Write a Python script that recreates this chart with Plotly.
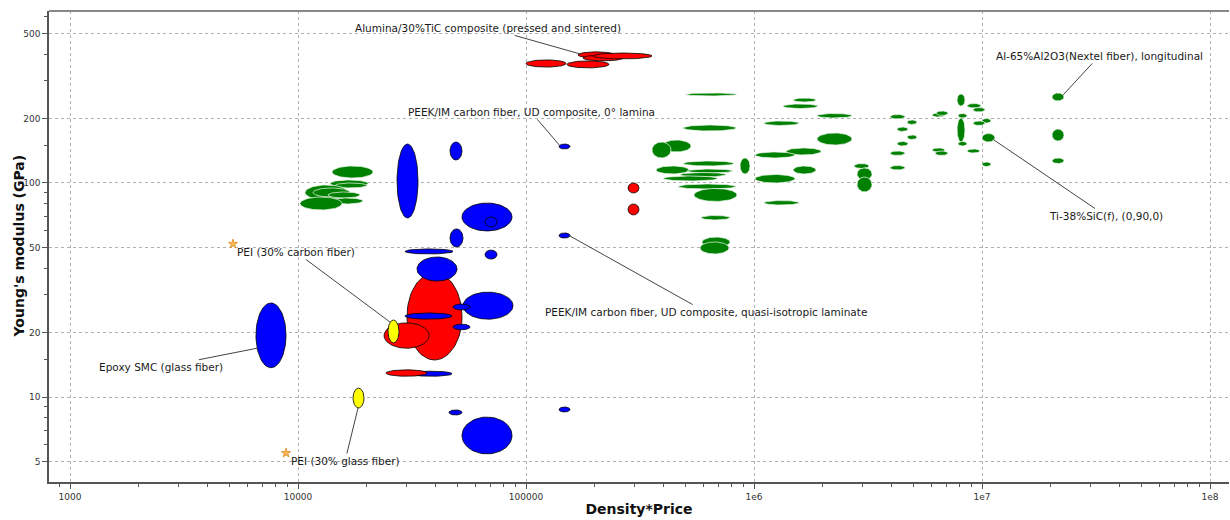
import numpy as np
import plotly.graph_objects as go

# ---------------- data: property ranges (Density*Price , Young's modulus GPa) ----------------
# green family
green_xlo = [14100, 13820, 14530, 10730, 11630, 13540, 13820, 10200,
             498200, 488300, 394900, 356900, 488300, 371700, 508300, 473700, 398900, 464200,
             545600, 868000, 585600, 591500, 579800,
             1.483e6, 1.341e6, 1.890e6, 1.106e6, 1.890e6, 1.382e6, 1.010e6, 1.483e6, 1.010e6,
             1.106e6, 2.746e6, 2.830e6, 2.830e6,
             3.949e6, 4.690e6, 4.239e6, 4.690e6, 4.239e6, 3.949e6, 3.949e6, 6.036e6, 6.285e6,
             6.036e6, 6.222e6, 7.771e6, 7.849e6, 7.771e6, 7.849e6, 8.595e6, 9.130e6, 1.0e7,
             9.130e6, 1.0e7, 8.595e6, 1.0e7, 2.028e7, 2.028e7, 2.028e7]
green_xhi = [21330, 20280, 20070, 16570, 16910, 18710, 19280, 15600,
             842400, 834000, 529300, 432500, 817100, 518700, 808900, 753900, 695200, 834000,
             842400, 960500, 784800, 784800, 777000,
             1.871e6, 1.909e6, 2.691e6, 1.576e6, 2.691e6, 1.968e6, 1.513e6, 1.871e6, 1.513e6,
             1.576e6, 3.195e6, 3.293e6, 3.293e6,
             4.596e6, 5.187e6, 4.737e6, 5.187e6, 4.737e6, 4.596e6, 4.596e6, 6.882e6, 7.094e6,
             6.882e6, 7.094e6, 8.423e6, 8.595e6, 8.423e6, 8.595e6, 9.899e6, 1.031e7, 1.095e7,
             1.031e7, 1.140e7, 9.800e6, 1.095e7, 2.289e7, 2.289e7, 2.289e7]
green_ylo = [105.5, 95.8, 94.8, 83.3, 86.0, 85.1, 79.8, 74.8,
             255.1, 175.0, 139.6, 130.9, 120.1, 110.2, 111.4, 106.7, 102.2, 93.7,
             82.0, 110.2, 67.2, 50.2, 46.6,
             239.0, 222.9, 201.3, 185.6, 150.5, 135.2, 130.9, 110.2, 100.0,
             78.9, 116.9, 103.3, 90.8,
             199.2, 187.7, 174.1, 159.7, 148.9, 134.5, 115.0, 203.4, 206.8,
             139.6, 134.5, 229.0, 201.3, 155.4, 148.9, 224.1, 214.7, 190.7,
             185.6, 155.4, 138.1, 119.4, 241.7, 157.1, 123.3]
green_yhi = [120.1, 103.3, 100.0, 97.9, 94.8, 90.8, 85.1, 86.0,
             263.4, 186.6, 158.8, 155.4, 126.7, 120.1, 116.2, 112.0, 107.8, 98.9,
             94.3, 130.9, 70.5, 55.9, 53.0,
             249.6, 234.0, 211.3, 194.9, 171.3, 145.8, 139.6, 120.1, 109.6,
             82.8, 123.3, 117.5, 106.7,
             209.0, 197.0, 182.6, 167.7, 156.3, 141.1, 120.7, 212.4, 217.0,
             145.8, 141.1, 260.6, 211.3, 201.3, 156.3, 235.2, 225.3, 200.2,
             194.9, 170.4, 144.2, 125.3, 263.4, 178.8, 130.9]

# blue ellipse lying under the large red one
blue_back_xlo = [30990]
blue_back_xhi = [47370]
blue_back_ylo = [12.5]
blue_back_yhi = [13.2]

# red ellipse drawn behind the blue ones
red_back_xlo = [30070]
red_back_xhi = [52400]
red_back_ylo = [14.9]
red_back_yhi = [38.0]

# blue family
blue_xlo = [6540, 27180, 46420, 52400, 66100, 46420, 29470, 66100, 33260, 29470,
            52930, 47850, 47850, 45950, 52400, 139500, 139500, 139500]
blue_xhi = [8860, 33600, 52400, 86820, 74630, 52930, 47850, 74630, 49820, 47370,
            87700, 56810, 56810, 52400, 86820, 156000, 156000, 156000]
blue_ylo = [13.7, 68.6, 128.1, 59.7, 62.3, 50.2, 46.6, 44.1, 34.8, 23.1,
            23.1, 25.5, 20.6, 8.24, 5.42, 8.51, 144.2, 55.3]
blue_yhi = [27.5, 152.1, 155.4, 80.6, 69.4, 61.0, 49.2, 48.6, 45.1, 24.7,
            30.9, 27.2, 21.9, 8.70, 8.06, 8.98, 152.1, 58.4]

# red family
red_xlo = [23840, 24320, 100000, 151300, 169100, 177800, 196800, 280200, 280200]
red_xhi = [37560, 36800, 149800, 231200, 245700, 266400, 356900, 313000, 313000]
red_ylo = [16.9, 12.5, 348, 345, 384, 372, 380, 89.8, 70.9]
red_yhi = [22.2, 13.4, 376, 372, 410, 396, 405, 100.0, 79.8]

# yellow family
yellow_xlo = [24810, 17430]
yellow_xhi = [27730, 19480]
yellow_ylo = [17.9, 8.89]
yellow_yhi = [22.9, 11.0]

# star markers
star_x = [5187, 8860]
star_y = [51.9, 5.47]

# labelled records: point touched by leader line, and label offset (px)
label_text = ["Alumina/30%TiC composite (pressed and sintered)",
              "PEEK/IM carbon fiber, UD composite, 0° lamina",
              "Al-65%Al2O3(Nextel fiber), longitudinal",
              "Ti-38%SiC(f), (0,90,0)",
              "PEI (30% carbon fiber)",
              "PEEK/IM carbon fiber, UD composite, quasi-isotropic laminate",
              "Epoxy SMC (glass fiber)",
              "PEI (30% glass fiber)"]
label_x = [172600, 141000, 2.27e7, 1.129e7, 25320, 156000, 6610, 18340]
label_y = [401, 149, 258, 158.8, 22.4, 56.5, 16.9, 8.89]
label_ax = [-92, -29, 36, 112, -94, 136, -96, -13]
label_ay = [-26, -34, -39, 76, -70, 76, 19, 53]

# axis ticks
x_tickvals = [1e3, 1e4, 1e5, 1e6, 1e7, 1e8]
x_ticktext = ["1000", "10000", "100000", "1e6", "1e7", "1e8"]
y_tickvals = [5, 10, 20, 50, 100, 200, 500]
y_ticktext = ["5", "10", "20", "50", "100", "200", "500"]

# ---------------- figure ----------------
def ellipse(xlo, xhi, ylo, yhi, n=80):
    lx0, lx1 = np.log10(xlo), np.log10(xhi)
    ly0, ly1 = np.log10(ylo), np.log10(yhi)
    cx, cy = (lx0 + lx1) / 2, (ly0 + ly1) / 2
    rx, ry = (lx1 - lx0) / 2, (ly1 - ly0) / 2
    t = np.linspace(0, 2 * np.pi, n)
    return 10 ** (cx + rx * np.cos(t)), 10 ** (cy + ry * np.sin(t))


fig = go.Figure()


def add_group(xlo, xhi, ylo, yhi, fill, edge, ew):
    for a, b, c, d in zip(xlo, xhi, ylo, yhi):
        ex, ey = ellipse(a, b, c, d)
        fig.add_trace(go.Scatter(x=ex, y=ey, mode="lines", fill="toself",
                                 fillcolor=fill, line=dict(color=edge, width=ew),
                                 hoverinfo="skip", showlegend=False))


add_group(green_xlo, green_xhi, green_ylo, green_yhi, "#008000", "rgba(235,245,235,0.9)", 0.8)
add_group(blue_back_xlo, blue_back_xhi, blue_back_ylo, blue_back_yhi, "#0000ff", "#000000", 0.8)
add_group(red_back_xlo, red_back_xhi, red_back_ylo, red_back_yhi, "#ff0000", "#000000", 0.8)
add_group(blue_xlo, blue_xhi, blue_ylo, blue_yhi, "#0000ff", "#000000", 0.8)
add_group(red_xlo, red_xhi, red_ylo, red_yhi, "#ff0000", "#000000", 0.8)
add_group(yellow_xlo, yellow_xhi, yellow_ylo, yellow_yhi, "#ffff00", "#000000", 0.8)

fig.add_trace(go.Scatter(x=star_x, y=star_y, mode="markers",
                         marker=dict(symbol="star", size=7, color="#f7b955",
                                     line=dict(color="#e08a20", width=0.8)),
                         hoverinfo="skip", showlegend=False))

for t, x, y, ax, ay in zip(label_text, label_x, label_y, label_ax, label_ay):
    fig.add_annotation(x=np.log10(x), y=np.log10(y), xref="x", yref="y",
                       text=t, showarrow=True, arrowhead=0, arrowwidth=1,
                       arrowcolor="#444444", ax=ax, ay=ay, standoff=0,
                       font=dict(family="DejaVu Sans", size=10.5, color="#1a1a1a"))

# y-axis title as a rotated annotation
fig.add_annotation(x=0, y=0.5, xref="paper", yref="paper", text="Young's modulus (GPa)",
                   textangle=-90, showarrow=False, xanchor="center", yanchor="middle",
                   xshift=-31,
                   font=dict(family="DejaVu Sans", size=14, color="#111111", weight="bold"))

# top frame line
fig.add_shape(type="line", xref="paper", yref="paper", x0=0, x1=1, y0=1, y1=1,
              line=dict(color="#888888", width=2))

fig.update_layout(
    width=1230, height=520,
    margin=dict(l=49, r=1, t=11, b=38),
    paper_bgcolor="white", plot_bgcolor="white",
    showlegend=False, hovermode=False,
    font=dict(family="DejaVu Sans", size=9, color="#333333"),
)

fig.update_xaxes(
    type="log", range=[2.9079, 8.0833], autorange=False,
    tickmode="array", tickvals=x_tickvals, ticktext=x_ticktext,
    tickfont=dict(family="DejaVu Sans", size=9, color="#333333"),
    showgrid=True, gridcolor="#b0b0b0", griddash="dot", gridwidth=1,
    showline=True, linecolor="#555555", linewidth=1.5, zeroline=False,
    ticks="outside", ticklen=5, tickcolor="#555555", tickwidth=1,
    minor=dict(ticks="outside", ticklen=3, tickcolor="#555555", showgrid=False,
               tickvals=[m * 10 ** e for e in range(2, 9) for m in range(2, 10)]),
    title=dict(text="Density*Price", standoff=4,
               font=dict(family="DejaVu Sans", size=14, color="#111111", weight="bold")),
    automargin=False,
)
fig.update_yaxes(
    type="log", range=[0.6028, 2.8037], autorange=False,
    tickmode="array", tickvals=y_tickvals, ticktext=y_ticktext,
    tickfont=dict(family="DejaVu Sans", size=9, color="#333333"),
    showgrid=True, gridcolor="#b0b0b0", griddash="dot", gridwidth=1,
    showline=True, linecolor="#555555", linewidth=1.5, zeroline=False,
    ticks="outside", ticklen=5, tickcolor="#555555", tickwidth=1,
    minor=dict(ticks="outside", ticklen=3, tickcolor="#555555", showgrid=False,
               tickvals=[m * 10 ** e for e in range(0, 3) for m in [3, 4, 6, 7, 8, 9, 1.5]]),
    automargin=False,
)

fig.write_html("out.html", config={"displayModeBar": False},
               post_script="document.body.style.margin='0px';document.body.style.overflow='hidden';")
